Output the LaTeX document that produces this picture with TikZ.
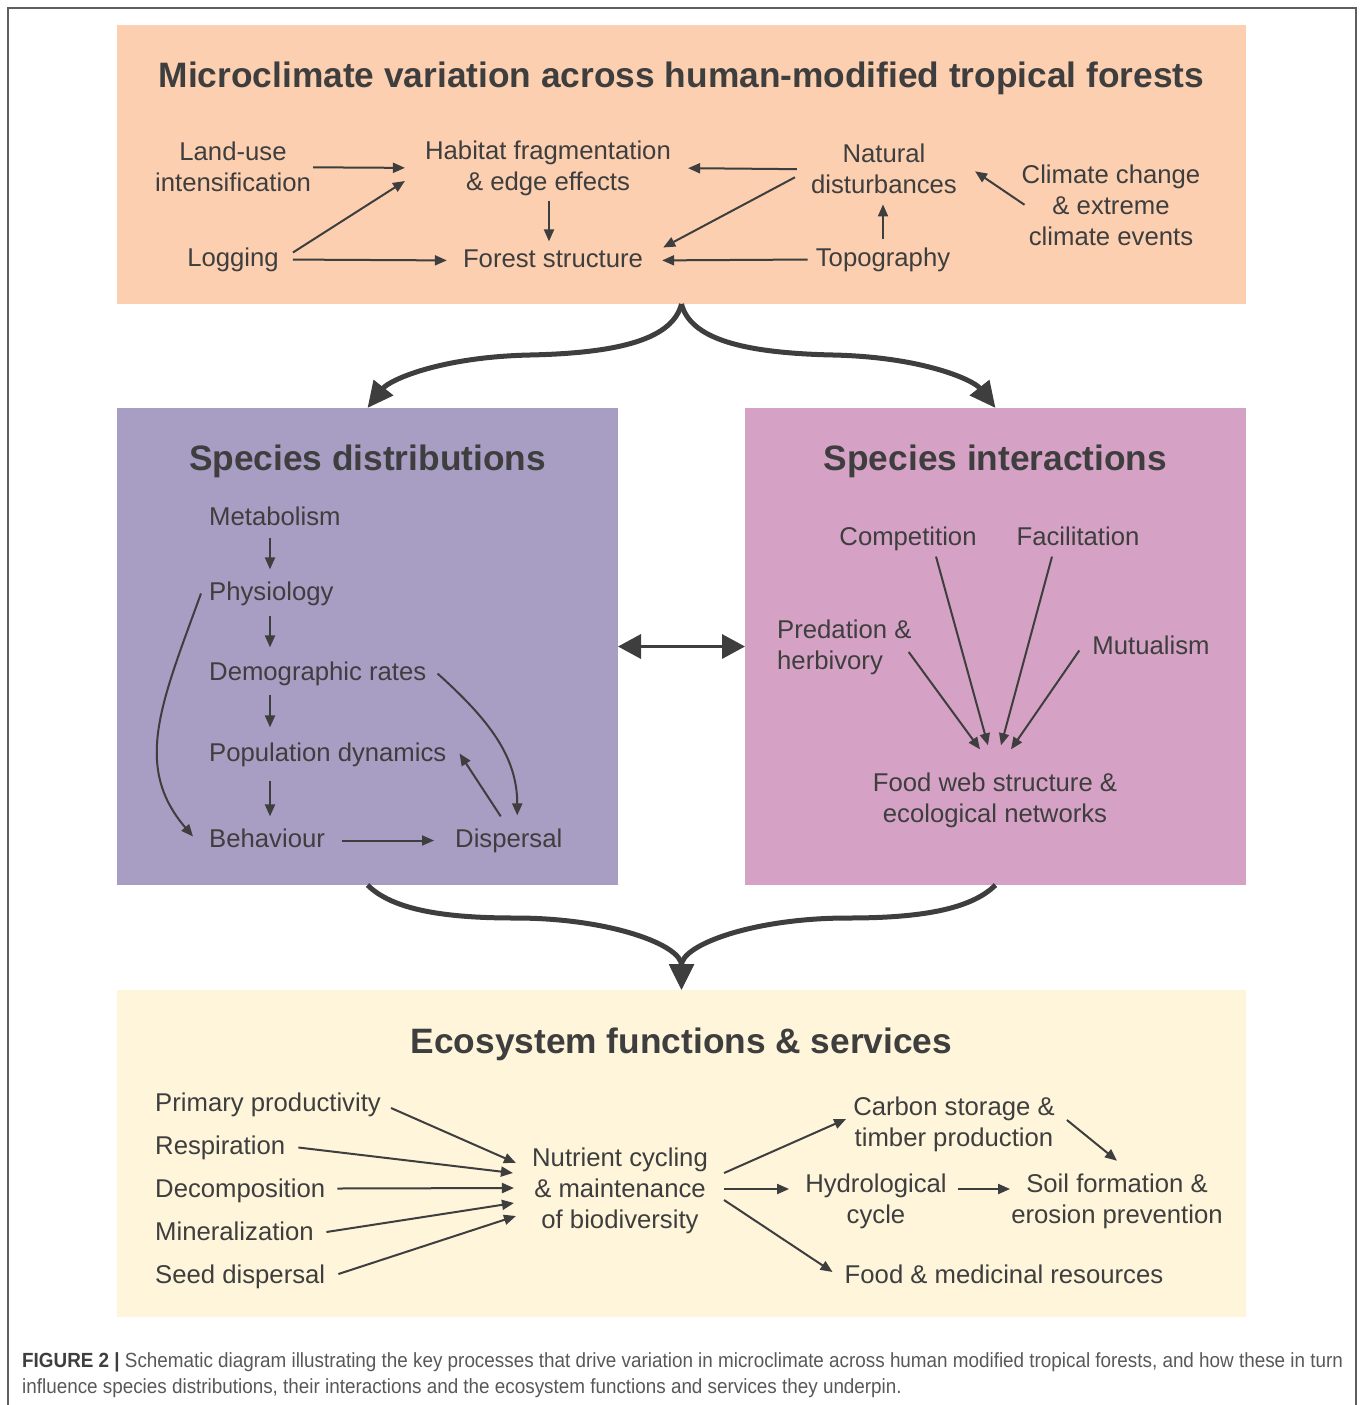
\documentclass[tikz,border=0pt]{standalone}
\usepackage{fontspec}
\setmainfont{Liberation Sans}
\newfontfamily\capfont[FakeStretch=0.92]{Liberation Sans}
\usetikzlibrary{arrows.meta,calc}
\definecolor{ink}{RGB}{62,62,62}
\definecolor{capgray}{RGB}{88,88,88}
\definecolor{framegray}{RGB}{95,95,95}
\definecolor{peach}{RGB}{251,207,176}
\definecolor{lavender}{RGB}{168,157,195}
\definecolor{orchid}{RGB}{213,162,197}
\definecolor{cream}{RGB}{254,245,219}
\begin{document}
\begin{tikzpicture}[x=1pt,y=-1pt]
\tikzstyle{panel}=[inner sep=0pt,outer sep=0pt,draw=none]
\tikzstyle{heading}=[font=\fontsize{35.3}{42}\selectfont\bfseries,text=ink,anchor=base,inner sep=0pt]
\tikzstyle{term}=[font=\fontsize{25.7}{31}\selectfont,text=ink,anchor=base,inner sep=0pt,text height=18.4pt,text depth=5.4pt]
\tikzstyle{multi}=[font=\fontsize{25.7}{31}\selectfont,text=ink,align=center,inner sep=0pt]
\tikzstyle{link}=[draw=ink,line width=2pt,-{Triangle[length=12pt,width=10pt]}]
\tikzstyle{flow}=[draw=ink,line width=5pt,-{Triangle[length=26pt,width=24pt]}]
\tikzstyle{duo}=[draw=ink,line width=3.5pt,{Triangle[length=23pt,width=24pt]}-{Triangle[length=23pt,width=24pt]}]
\useasboundingbox (0,0) rectangle (1360,1405);
\draw[framegray,line width=1.5pt] (8,1405) -- (8,8) -- (1356,8) -- (1356,1405);
\node[panel,fill=peach,minimum width=1129pt,minimum height=279pt] (micro) at (681.5,164.5) {};
\node[panel,fill=lavender,minimum width=501pt,minimum height=477pt] (distr) at (367.5,646.5) {};
\node[panel,fill=orchid,minimum width=501pt,minimum height=477pt] (inter) at (995.5,646.5) {};
\node[panel,fill=cream,minimum width=1129pt,minimum height=327pt] (ecosys) at (681.5,1153.5) {};
\node[heading] (microtitle) at (681.5,87.5) {Microclimate variation across human-modified tropical forests};
\node[multi] (landuse) at (233,167.3) {Land-use\\intensification};
\node[multi] (habitat) at (548,168) {Habitat fragmentation\\\& edge effects};
\node[term] (logging) at (233,266) {Logging};
\node[term] (forest) at (553,267) {Forest structure};
\node[multi] (natural) at (884,169.3) {Natural\\disturbances};
\node[term] (topo) at (883,266) {Topography};
\node[multi] (climate) at (1111,205.8) {Climate change\\\& extreme\\climate events};
\node[heading] (distrtitle) at (367.5,470.5) {Species distributions};
\node[term,anchor=base west] (metab) at (209,525) {Metabolism};
\node[term,anchor=base west] (physio) at (209,600) {Physiology};
\node[term,anchor=base west] (demo) at (209,680) {Demographic rates};
\node[term,anchor=base west] (pop) at (209,761) {Population dynamics};
\node[term,anchor=base west] (behav) at (209,847) {Behaviour};
\node[term,anchor=base west] (disp) at (455,847) {Dispersal};
\node[heading] (intertitle) at (995.5,470.5) {Species interactions};
\node[term] (comp) at (908,545) {Competition};
\node[term] (facil) at (1078,545) {Facilitation};
\node[multi,align=left,anchor=west] (pred) at (777,647) {Predation \&\\herbivory};
\node[term] (mutual) at (1151,654) {Mutualism};
\node[multi] (food) at (995,800) {Food web structure \&\\ecological networks};
\node[heading] (ecotitle) at (681.5,1053.5) {Ecosystem functions \& services};
\node[term,anchor=base west] (primary) at (155,1111) {Primary productivity};
\node[term,anchor=base west] (resp) at (155,1154) {Respiration};
\node[term,anchor=base west] (decomp) at (155,1197) {Decomposition};
\node[term,anchor=base west] (miner) at (155,1240) {Mineralization};
\node[term,anchor=base west] (seed) at (155,1283) {Seed dispersal};
\node[multi] (nutrient) at (620,1190.5) {Nutrient cycling\\\& maintenance\\of biodiversity};
\node[multi] (carbon) at (954,1124) {Carbon storage \&\\timber production};
\node[multi] (hydro) at (876,1201) {Hydrological\\cycle};
\node[multi] (soil) at (1117,1201) {Soil formation \&\\erosion prevention};
\node[term] (foodmed) at (1004,1283) {Food \& medicinal resources};
\node[anchor=base west,align=left,inner sep=0pt,font=\fontsize{20.5}{25.5}\capfont,text=capgray] (caption) at (22,1393) {{\color{ink}\bfseries FIGURE 2 |} Schematic diagram illustrating the key processes that drive variation in microclimate across human modified tropical forests, and how these in turn\\influence species distributions, their interactions and the ecosystem functions and services they underpin.};
\coordinate (tl) at (530,355);
\coordinate (tr) at (833,355);
\coordinate (bl) at (515,918);
\coordinate (br) at (848,918);
\draw[flow] (micro.south) .. controls +(-9,35) and +(90,-2) .. (tl) .. controls +(-90,2) and +(22,-28) .. (distr.north);
\draw[flow] (micro.south) .. controls +(9,35) and +(-90,-2) .. (tr) .. controls +(90,2) and +(-22,-28) .. (inter.north);
\draw[flow] (distr.south) .. controls +(25,25) and +(-70,0) .. (bl) .. controls +(95,0) and +(0,-45) .. (ecosys.north);
\draw[flow] (inter.south) .. controls +(-25,25) and +(70,0) .. (br) .. controls +(-95,0) and +(0,-45) .. (ecosys.north);
\draw[duo] (distr.east) -- (inter.west);
\draw[link,shorten <=2pt,shorten >=20pt] (landuse.east) -- (habitat.west);
\draw[link] ($(logging.east)+(14,-7)$) -- ($(habitat.west)+(-20,13)$);
\draw[link,shorten <=14pt,shorten >=16pt] (logging.east) -- (forest.west);
\draw[link] ($(habitat.south)+(1,5)$) -- ($(forest.north)+(-4,-7)$);
\draw[link,shorten <=14pt,shorten >=17pt] (natural.west) -- (habitat.east);
\draw[link] ($(natural.west)+(-16,8)$) -- ($(forest.east)+(20,-13)$);
\draw[link,shorten <=8pt,shorten >=19pt] (topo.west) -- (forest.east);
\draw[link] ($(topo.north)+(0,-8)$) -- ($(natural.south)+(-1,10)$);
\draw[link] ($(climate.west)+(3,-1)$) -- ($(natural.east)+(18,2)$);
\draw[link] ($(metab.south west)+(61,7)$) -- ($(physio.north west)+(61,-12)$);
\draw[link] ($(physio.south west)+(61,10)$) -- ($(demo.north west)+(61,-14)$);
\draw[link] ($(demo.south west)+(61,9)$) -- ($(pop.north west)+(61,-15)$);
\draw[link] ($(pop.south west)+(61,14)$) -- ($(behav.north west)+(61,-12)$);
\draw[link] ($(physio.west)+(-8,0)$) .. controls +(-40,110) and +(-60,-70) .. ($(behav.west)+(-16,-4)$);
\draw[link] ($(demo.east)+(11,0)$) .. controls +(50,45) and +(0,-60) .. ($(disp.north)+(8.5,-13)$);
\draw[link] ($(disp.north)+(-8,-12)$) -- ($(pop.east)+(13,-1)$);
\draw[link,shorten <=17pt,shorten >=21pt] (behav.east) -- (disp.west);
\draw[link] ($(comp.south)+(28,6)$) -- ($(food.north)+(-7,-27)$);
\draw[link] ($(facil.south)+(-26,6)$) -- ($(food.north)+(6,-27)$);
\draw[link] ($(pred.east)+(-3,5)$) -- ($(food.north)+(-15,-23)$);
\draw[link] ($(mutual.west)+(-13,3)$) -- ($(food.north)+(16,-23)$);
\draw[link] ($(primary.east)+(10,3.5)$) -- ($(nutrient.west)+(-16,-27.5)$);
\draw[link] ($(resp.east)+(13,0)$) -- ($(nutrient.west)+(-19,-17.5)$);
\draw[link] ($(decomp.east)+(12,-2)$) -- ($(nutrient.west)+(-18,-2.5)$);
\draw[link] ($(miner.east)+(12.5,-1.5)$) -- ($(nutrient.west)+(-18,12.5)$);
\draw[link] ($(seed.east)+(13,-2.5)$) -- ($(nutrient.west)+(-16,25.5)$);
\draw[link] ($(nutrient.east)+(16,-17.5)$) -- ($(carbon.west)+(-7,-5)$);
\draw[link] ($(nutrient.east)+(16,-1.5)$) -- ($(hydro.west)+(-16,-12)$);
\draw[link] ($(nutrient.east)+(16,9.5)$) -- ($(foodmed.west)+(-12,-4.5)$);
\draw[link] ($(carbon.east)+(12,-4)$) -- ($(soil.north)+(0,-12.6)$);
\draw[link] ($(hydro.east)+(11,-12)$) -- ($(soil.west)+(-1,-12)$);
\end{tikzpicture}
\end{document}
